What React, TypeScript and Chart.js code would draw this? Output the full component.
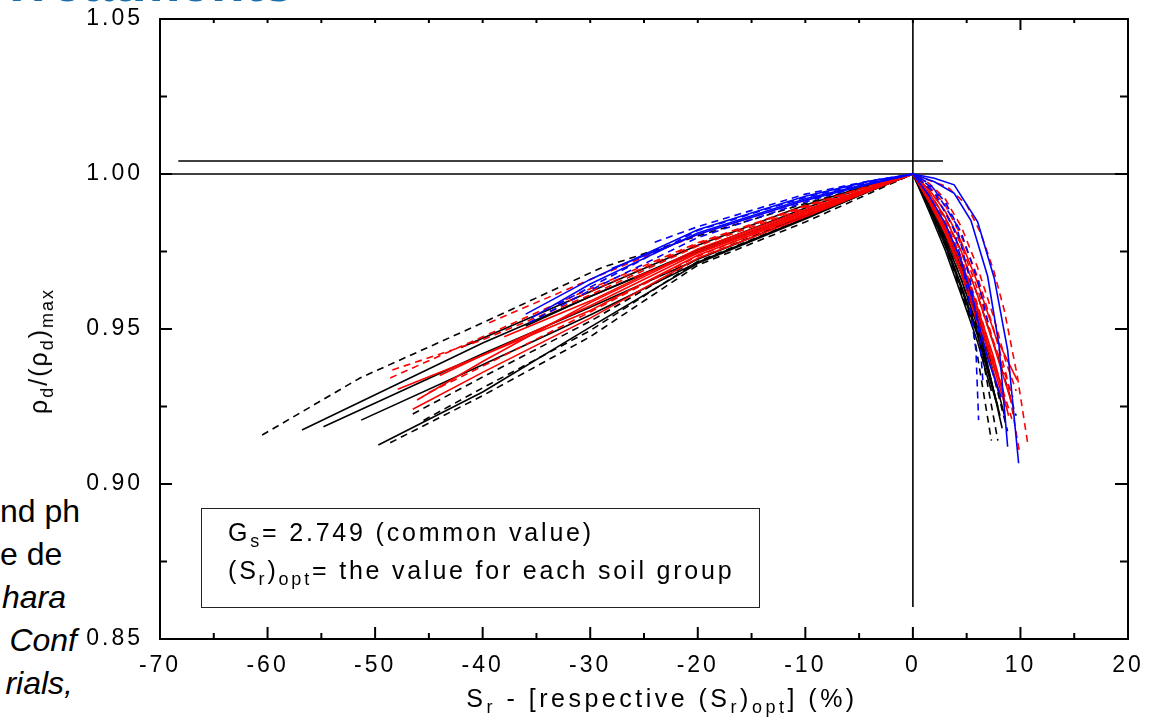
import React, { useEffect, useRef } from "react";
import { Chart, registerables } from "chart.js";

Chart.register(...registerables);

type Pt = [number, number];

// ---- Axis ticks ----
const xTicks = [-70, -60, -50, -40, -30, -20, -10, 0, 10, 20];
const xMinorTicks = [-65, -55, -45, -35, -25, -15, -5, 5, 15];
const yTicks = [0.85, 0.9, 0.95, 1.0, 1.05];
const yMinorTicks = [0.875, 0.925, 0.975, 1.025];

// ---- Reference lines ----
const refMaxLine: Pt[] = [[-70, 1.0], [20, 1.0]];
const refUpperLine: Pt[] = [[-68.3, 1.0042], [2.8, 1.0042]];
const refZeroLine: Pt[] = [[0, 1.05], [0, 0.8603]];

// ---- Blue solid curves ----
const blueSolid1: Pt[] = [[-36, 0.9548], [-30, 0.966], [-20, 0.982], [-10, 0.9928], [-4, 0.9977], [0, 1], [2, 0.9986], [3.84, 0.9965], [6.02, 0.9846], [7.57, 0.9663], [8.81, 0.9432], [9.83, 0.9067]];
const blueSolid2: Pt[] = [[-35.5, 0.9535], [-30, 0.9645], [-20, 0.981], [-10, 0.992], [-4, 0.997], [0, 1], [2, 0.9975], [3.84, 0.9938], [5.4, 0.985], [6.95, 0.967], [8, 0.945], [8.81, 0.912]];
const blueSolid3: Pt[] = [[-28, 0.9695], [-20, 0.9805], [-10, 0.9915], [-4, 0.9968], [0, 1], [1.5, 0.993], [3, 0.984], [4.5, 0.972], [5.5, 0.96], [7, 0.94], [8.2, 0.928]];

// ---- Blue dashed curves ----
const blueDash1: Pt[] = [[-35.7, 0.952], [-30, 0.9625], [-20, 0.9795], [-10, 0.991], [-4, 0.9968], [0, 1], [2, 0.994], [3.84, 0.982], [5.08, 0.9626], [5.86, 0.9432], [6.11, 0.9206]];
const blueDash2: Pt[] = [[-33, 0.958], [-20, 0.9818], [-10, 0.9925], [-4, 0.9973], [0, 1], [2, 0.995], [4, 0.984], [5.3, 0.966], [6.2, 0.948], [6.5, 0.9335]];
const blueDash3: Pt[] = [[-24, 0.978], [-20, 0.983], [-10, 0.9935], [-4, 0.9978], [0, 1], [1.5, 0.997], [3, 0.991], [4.5, 0.981], [6, 0.966], [7, 0.952]];

// ---- Red solid curves ----
const redSolid1: Pt[] = [[-46.5, 0.9241], [-40, 0.936], [-30, 0.9535], [-20, 0.9728], [-10, 0.9862], [-4, 0.9946], [0, 1], [1.5, 0.995], [3, 0.988], [4.5, 0.978], [6, 0.965], [7.7, 0.9475], [9.7, 0.9335]];
const redSolid2: Pt[] = [[-47.9, 0.9306], [-40, 0.9415], [-30, 0.9575], [-20, 0.9745], [-10, 0.9875], [-4, 0.995], [0, 1], [1.5, 0.992], [3, 0.982], [4.5, 0.969], [6, 0.954], [7.5, 0.938], [8.6, 0.925]];
const redSolid3: Pt[] = [[-46.1, 0.9271], [-40, 0.9395], [-30, 0.9585], [-20, 0.9752], [-10, 0.988], [-4, 0.9953], [0, 1], [1.5, 0.993], [3, 0.984], [4.5, 0.972], [6, 0.957], [7.5, 0.941], [8.9, 0.922]];
const redSolid4: Pt[] = [[-44, 0.935], [-40, 0.9415], [-30, 0.956], [-20, 0.9738], [-10, 0.9868], [-4, 0.9948], [0, 1], [1.5, 0.991], [3, 0.981], [4.5, 0.968], [6, 0.952], [8.2, 0.928]];
const redSolid5: Pt[] = [[-38, 0.9475], [-30, 0.959], [-20, 0.9758], [-10, 0.9885], [-4, 0.9956], [0, 1], [1.5, 0.994], [3, 0.986], [4.5, 0.975], [6, 0.961], [7.5, 0.945], [9.2, 0.926]];
const redSolid6: Pt[] = [[-26, 0.9665], [-20, 0.9745], [-10, 0.987], [-4, 0.9952], [0, 1], [1.5, 0.992], [3, 0.983], [4.5, 0.971], [6, 0.956], [7.5, 0.939], [8.4, 0.93]];

// ---- Red dashed curves ----
const redDash1: Pt[] = [[-48.6, 0.9342], [-40, 0.9475], [-30, 0.963], [-20, 0.9778], [-10, 0.9898], [-4, 0.9962], [0, 1], [1.5, 0.998], [3.2, 0.9959], [5, 0.99], [6.3, 0.981], [7.5, 0.969], [8.5, 0.956], [9.7, 0.935], [10.7, 0.9126]];
const redDash2: Pt[] = [[-48.4, 0.9368], [-40, 0.9465], [-30, 0.961], [-20, 0.9768], [-10, 0.989], [-4, 0.996], [0, 1], [1.5, 0.996], [3, 0.99], [4.5, 0.98], [6, 0.967], [7.5, 0.95], [8.7, 0.935], [9.9, 0.9104]];
const redDash3: Pt[] = [[-39.4, 0.952], [-30, 0.966], [-20, 0.9805], [-10, 0.9915], [-4, 0.997], [0, 1], [1.5, 0.995], [3, 0.988], [4.5, 0.977], [6, 0.963], [7.5, 0.946], [9.3, 0.928]];
const redDash4: Pt[] = [[-45, 0.9295], [-40, 0.938], [-30, 0.9555], [-20, 0.9735], [-10, 0.9872], [-4, 0.9951], [0, 1], [1.5, 0.994], [3, 0.985], [4.5, 0.973], [6, 0.958], [7.5, 0.94], [9.2, 0.921]];
const redDash5: Pt[] = [[-32, 0.959], [-20, 0.9775], [-10, 0.9895], [-4, 0.9962], [0, 1], [1.5, 0.997], [3, 0.992], [4.5, 0.983], [6, 0.97], [7.5, 0.954], [8.6, 0.94], [9.6, 0.93]];

// ---- Black solid curves ----
const blackSolid1: Pt[] = [[-56.8, 0.9174], [-40, 0.9455], [-30, 0.9605], [-20, 0.975], [-10, 0.988], [-4, 0.9955], [0, 1], [1.5, 0.988], [3, 0.9755], [4.5, 0.961], [6, 0.946], [7.3, 0.93]];
const blackSolid2: Pt[] = [[-54.8, 0.9185], [-40, 0.942], [-30, 0.957], [-20, 0.9725], [-10, 0.9865], [-4, 0.995], [0, 1], [1.5, 0.989], [3, 0.977], [4.5, 0.963], [6, 0.948], [7.7, 0.927]];
const blackSolid3: Pt[] = [[-51.3, 0.9206], [-40, 0.9385], [-30, 0.9545], [-20, 0.9715], [-10, 0.9858], [-4, 0.9946], [0, 1], [1.5, 0.99], [3, 0.979], [4.5, 0.966], [6, 0.951], [8.1, 0.922]];
const blackSolid4: Pt[] = [[-49.7, 0.9126], [-40, 0.9297], [-30, 0.9506], [-20, 0.9712], [-10, 0.9855], [-4, 0.9945], [0, 1], [1.5, 0.991], [3, 0.98], [4.5, 0.968], [6, 0.953], [8.3, 0.918]];
const blackSolid5: Pt[] = [[-36, 0.951], [-30, 0.9605], [-20, 0.9755], [-10, 0.989], [-4, 0.9962], [0, 1], [1.5, 0.99], [3, 0.978], [4.5, 0.964], [6, 0.949], [7.9, 0.925]];
const blackSolid6: Pt[] = [[-42, 0.944], [-30, 0.962], [-20, 0.977], [-10, 0.99], [-4, 0.9965], [0, 1], [1.5, 0.992], [3, 0.982], [4.5, 0.97], [6, 0.956], [8.6, 0.921]];

// ---- Black dashed curves ----
const blackDash1: Pt[] = [[-60.5, 0.9158], [-51.4, 0.9342], [-40, 0.952], [-29, 0.9697], [-20, 0.98], [-10, 0.9905], [-4, 0.9963], [0, 1], [1.5, 0.99], [3, 0.979], [4.5, 0.966], [6, 0.95], [7.9, 0.914]];
const blackDash2: Pt[] = [[-48.6, 0.9133], [-40, 0.9285], [-30, 0.9475], [-20, 0.9706], [-10, 0.9845], [-4, 0.9938], [0, 1], [1.5, 0.994], [3, 0.986], [4.5, 0.975], [6, 0.961], [8, 0.94], [9.6, 0.922]];
const blackDash3: Pt[] = [[-46.5, 0.9226], [-40, 0.9345], [-30, 0.9525], [-20, 0.9727], [-10, 0.9868], [-4, 0.995], [0, 1], [1.5, 0.993], [3, 0.983], [4.5, 0.971], [6, 0.955], [7.5, 0.935], [8.8, 0.917]];
const blackDash4: Pt[] = [[-45.5, 0.9205], [-40, 0.931], [-30, 0.9495], [-20, 0.9718], [-10, 0.9858], [-4, 0.9945], [0, 1], [1.5, 0.989], [3, 0.977], [4.5, 0.962], [5.5, 0.952], [7.3, 0.914]];

const BLUE = "#0000ff";
const RED = "#ff0000";
const BLACK = "#000000";
const DASH = [7, 5];

const curveSeries: { data: Pt[]; color: string; dashed: boolean }[] = [
  { data: blueSolid1, color: BLUE, dashed: false },
  { data: blueSolid2, color: BLUE, dashed: false },
  { data: blueSolid3, color: BLUE, dashed: false },
  { data: blueDash1, color: BLUE, dashed: true },
  { data: blueDash2, color: BLUE, dashed: true },
  { data: blueDash3, color: BLUE, dashed: true },
  { data: redSolid1, color: RED, dashed: false },
  { data: redSolid2, color: RED, dashed: false },
  { data: redSolid3, color: RED, dashed: false },
  { data: redSolid4, color: RED, dashed: false },
  { data: redSolid5, color: RED, dashed: false },
  { data: redSolid6, color: RED, dashed: false },
  { data: redDash1, color: RED, dashed: true },
  { data: redDash2, color: RED, dashed: true },
  { data: redDash3, color: RED, dashed: true },
  { data: redDash4, color: RED, dashed: true },
  { data: redDash5, color: RED, dashed: true },
  { data: blackSolid1, color: BLACK, dashed: false },
  { data: blackSolid2, color: BLACK, dashed: false },
  { data: blackSolid3, color: BLACK, dashed: false },
  { data: blackSolid4, color: BLACK, dashed: false },
  { data: blackSolid5, color: BLACK, dashed: false },
  { data: blackSolid6, color: BLACK, dashed: false },
  { data: blackDash1, color: BLACK, dashed: true },
  { data: blackDash2, color: BLACK, dashed: true },
  { data: blackDash3, color: BLACK, dashed: true },
  { data: blackDash4, color: BLACK, dashed: true },
];

const FONT = "'Liberation Sans', Arial, Helvetica, sans-serif";

const toXY = (pts: Pt[]) => pts.map(([x, y]) => ({ x, y }));

const axisPlugin = {
  id: "axisFrame",
  beforeDraw(chart: any) {
    (chart.ctx as any).letterSpacing = "3px";
  },
  afterDraw(chart: any) {
    const { ctx, chartArea: a, scales } = chart;
    const xs = scales.x;
    const ys = scales.y;
    ctx.save();
    (ctx as any).letterSpacing = "0px";
    ctx.strokeStyle = "#000";
    ctx.lineWidth = 2;
    ctx.setLineDash([]);
    ctx.beginPath();
    ctx.rect(a.left, a.top, a.right - a.left, a.bottom - a.top);
    ctx.stroke();
    const seg = (x1: number, y1: number, x2: number, y2: number) => {
      ctx.beginPath();
      ctx.moveTo(x1, y1);
      ctx.lineTo(x2, y2);
      ctx.stroke();
    };
    xTicks.forEach((v) => {
      const px = xs.getPixelForValue(v);
      seg(px, a.bottom, px, a.bottom - 12);
      seg(px, a.top, px, a.top + (v === 10 ? 11 : 4));
    });
    xMinorTicks.forEach((v) => {
      const px = xs.getPixelForValue(v);
      seg(px, a.bottom, px, a.bottom - 6);
      seg(px, a.top, px, a.top + 4);
    });
    yTicks.forEach((v) => {
      const py = ys.getPixelForValue(v);
      seg(a.left, py, a.left + 12, py);
      seg(a.right, py, a.right - 13, py);
    });
    yMinorTicks.forEach((v) => {
      const py = ys.getPixelForValue(v);
      seg(a.left, py, a.left + 7, py);
      seg(a.right, py, a.right - 8, py);
    });
    ctx.restore();
    (ctx as any).letterSpacing = "0px";
  },
};

const Sub = ({ children }: { children: React.ReactNode }) => (
  <span style={{ fontSize: "0.72em", position: "relative", top: "0.32em" }}>{children}</span>
);

const baseText: React.CSSProperties = {
  position: "absolute",
  fontFamily: FONT,
  fontSize: 25,
  lineHeight: "25px",
  letterSpacing: "2.8px",
  color: "#000",
  whiteSpace: "nowrap",
};

const slideText: React.CSSProperties = {
  position: "absolute",
  left: 0,
  fontFamily: FONT,
  fontSize: 32,
  lineHeight: "32px",
  color: "#000",
  whiteSpace: "nowrap",
  textAlign: "right",
};

export default function App() {
  const canvasRef = useRef<HTMLCanvasElement | null>(null);

  useEffect(() => {
    if (!canvasRef.current) return;
    const refStyle = { pointRadius: 0, showLine: true, fill: false, borderColor: "#000" };
    const datasets: any[] = curveSeries.map((s, i) => ({
      label: `curve${i + 1}`,
      data: toXY(s.data),
      borderColor: s.color,
      backgroundColor: s.color,
      borderWidth: 1.6,
      borderDash: s.dashed ? DASH : [],
      pointRadius: 0,
      showLine: true,
      fill: false,
      tension: 0,
    }));
    datasets.push(
      { ...refStyle, label: "ref max", data: toXY(refMaxLine), borderWidth: 1.4 },
      { ...refStyle, label: "ref upper", data: toXY(refUpperLine), borderWidth: 1.4 },
      { ...refStyle, label: "ref zero", data: toXY(refZeroLine), borderWidth: 1.6 }
    );

    const chart = new Chart(canvasRef.current, {
      type: "scatter",
      data: { datasets },
      options: {
        responsive: false,
        animation: false,
        devicePixelRatio: 1,
        layout: { padding: { left: 0, top: 19, right: 32, bottom: 0 } },
        plugins: { legend: { display: false }, tooltip: { enabled: false } },
        elements: { line: { tension: 0 } },
        scales: {
          x: {
            type: "linear",
            min: -70,
            max: 20,
            border: { display: false },
            grid: { display: false, drawTicks: false },
            ticks: {
              stepSize: 10,
              autoSkip: false,
              maxRotation: 0,
              padding: 13,
              color: "#000",
              font: { family: FONT, size: 23 },
              callback: (v: any) => String(v),
            },
            afterFit: (scale: any) => {
              scale.height = 86;
              scale.paddingLeft = 0;
              scale.paddingRight = 0;
            },
          },
          y: {
            type: "linear",
            min: 0.85,
            max: 1.05,
            border: { display: false },
            grid: { display: false, drawTicks: false },
            ticks: {
              stepSize: 0.05,
              autoSkip: false,
              padding: 17,
              color: "#000",
              font: { family: FONT, size: 23 },
              callback: (v: any) => Number(v).toFixed(2),
            },
            afterFit: (scale: any) => {
              scale.width = 160;
              scale.paddingTop = 0;
              scale.paddingBottom = 0;
            },
          },
        },
      },
      plugins: [axisPlugin],
    });
    return () => chart.destroy();
  }, []);

  return (
    <div
      style={{
        position: "absolute",
        left: 0,
        top: 0,
        width: 1160,
        height: 725,
        overflow: "hidden",
        background: "#fff",
      }}
    >
      {/* slide fragments around the figure */}
      <div
        style={{
          position: "absolute",
          left: 0,
          width: 250,
          top: -45.5,
          fontFamily: FONT,
          fontWeight: 700,
          fontSize: 55,
          lineHeight: "55px",
          color: "#1a6fab",
          textAlign: "right",
          whiteSpace: "nowrap",
        }}
      >
        Treatments
      </div>
      <div style={{ ...slideText, top: 495, width: 77 }}>nd ph</div>
      <div style={{ ...slideText, top: 538, width: 61 }}>e de</div>
      <div style={{ ...slideText, top: 581, width: 66, fontStyle: "italic" }}>hara</div>
      <div style={{ ...slideText, top: 624, width: 77, fontStyle: "italic" }}>Conf</div>
      <div style={{ ...slideText, top: 667, width: 73, fontStyle: "italic" }}>rials,</div>

      <canvas
        ref={canvasRef}
        width={1160}
        height={725}
        style={{ position: "absolute", left: 0, top: 0, width: 1160, height: 725, display: "block" }}
      />

      {/* annotation box */}
      <div
        style={{
          position: "absolute",
          left: 201,
          top: 508,
          width: 559,
          height: 100,
          border: "1.5px solid #222",
          boxSizing: "border-box",
        }}
      />
      <div style={{ ...baseText, left: 228, top: 520 }}>
        G<Sub>s</Sub>= 2.749 (common value)
      </div>
      <div style={{ ...baseText, left: 228, top: 558 }}>
        (S<Sub>r</Sub>)<Sub>opt</Sub>= the value for each soil group
      </div>

      {/* axis titles */}
      <div style={{ ...baseText, left: 662, top: 686, transform: "translateX(-50%)", letterSpacing: "3.5px" }}>
        S<Sub>r</Sub> - [respective (S<Sub>r</Sub>)<Sub>opt</Sub>] (%)
      </div>
      <div
        style={{
          ...baseText,
          left: 40,
          top: 351,
          letterSpacing: "2px",
          transform: "translate(-50%, -50%) rotate(-90deg)",
        }}
      >
        ρ<Sub>d</Sub>/(ρ<Sub>d</Sub>)<Sub>max</Sub>
      </div>
    </div>
  );
}
